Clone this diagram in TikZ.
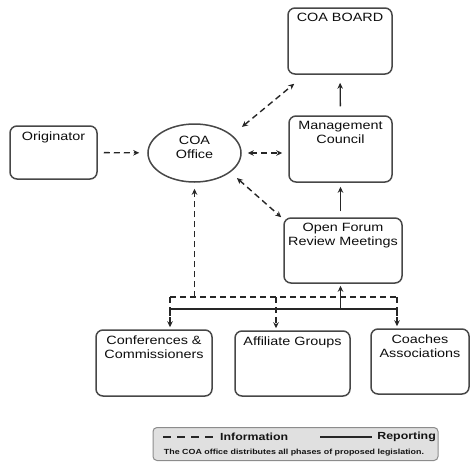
\documentclass[tikz,border=0pt]{standalone}
\usepackage{fontspec}
\setmainfont{Liberation Sans}[FakeStretch=1.2]
\usetikzlibrary{arrows.meta,shapes.geometric,calc}
\newcommand\mainfs{\fontsize{12}{14}\selectfont}
\newcommand\legfs{\fontsize{10.3}{12}\selectfont\bfseries}
\newcommand\notefs{\fontsize{7.4}{9}\selectfont\bfseries}
\begin{document}
\begin{tikzpicture}[x=1pt,y=-1pt,
  >={Stealth[length=6pt,width=5.5pt]},
  box/.style={draw=black!72, line width=1.5pt, rounded corners=7pt, inner sep=0pt},
  ttl/.style={label={[anchor=north,inner sep=0pt,yshift=-6pt,align=center,font=\mainfs,text=black!95]north:{#1}}},
  info/.style={draw=black!85, line width=1.4pt, dash pattern=on 6pt off 4pt},
  rep/.style={draw=black!85, line width=1.3pt},
  legtxt/.style={inner sep=0pt, text=black!92}]
\useasboundingbox (0,0) rectangle (471,461);

% boxes
\node[box, minimum width=104pt, minimum height=66pt, ttl={COA BOARD}] (board) at (340,41) {};
\node[box, minimum width=103pt, minimum height=66pt, ttl={Management\\Council}] (mgmt) at (340.5,149) {};
\node[box, minimum width=87pt, minimum height=53pt, ttl={Originator}] (orig) at (53.5,152.5) {};
\node[draw=black!72, line width=1.5pt, ellipse, minimum width=93pt, minimum height=58pt, inner sep=0pt,
  label={[anchor=north,inner sep=0pt,yshift=-13pt,align=center,font=\mainfs,text=black!95]90:{COA\\Office}}] (office) at (194.5,153) {};
\node[box, minimum width=118pt, minimum height=65pt, ttl={Open Forum\\Review Meetings}] (forum) at (343,250.5) {};
\node[box, minimum width=116pt, minimum height=66pt, ttl={Conferences \&\\Commissioners}] (conf) at (154,363) {};
\node[box, minimum width=115pt, minimum height=65pt, ttl={Affiliate Groups}] (affil) at (292.5,363.5) {};
\node[box, minimum width=98pt, minimum height=65pt, ttl={Coaches\\Associations}] (coach) at (420,361.5) {};

% information (dashed) connectors
\draw[info,->, shorten <=6pt, shorten >=8pt] (orig) -- (office);
\draw[info,<->] ([shift={(14,-5)}]office.north east) -- ([shift={(7,9)}]board.south west);
\draw[info,<->, shorten <=6pt, shorten >=6pt] (office.east) -- (office.east -| mgmt.west);
\draw[info,<->] ([shift={(9,4)}]office.south east) -- ([shift={(-2,0)}]forum.north west);

% reporting (solid) connectors
\draw[rep,->, shorten <=9pt, shorten >=8pt] (mgmt.north) -- (board.south);
\draw[rep,->, shorten <=6pt, shorten >=4pt] (mgmt.south |- forum.north) -- (mgmt.south);

% buses
\coordinate (d1) at (170,297);
\coordinate (d2) at (276,297);
\coordinate (d3) at (397,297);
\coordinate (s1) at (170,309);
\coordinate (s3) at (397,309);
\draw[info] (d1) -- (d3);
\draw[info,->, shorten >=6pt] (office.south |- d1) -- (office.south);
\draw[info,->, shorten >=2pt] (d1) -- (d1 |- conf.north);
\draw[info,->, shorten >=2pt] (d2) -- (d2 |- affil.north);
\draw[info,->, shorten >=2pt] (d3) -- (d3 |- coach.north);
\draw[rep] ([yshift=-7pt]s1) -- (s1) -- (s3) -- ([yshift=-7pt]s3);
\draw[rep,->, shorten >=2pt] (mgmt.south |- s1) -- (mgmt.south |- forum.south);

% legend
\node[draw=black!45, fill=black!12, line width=1pt, rounded corners=4pt,
  minimum width=285pt, minimum height=33pt] (legend) at (295.5,444) {};
\coordinate (la) at (163,437);
\coordinate (lb) at (213,437);
\coordinate (lc) at (320,437);
\coordinate (ld) at (372,437);
\draw[draw=black!85, line width=1.4pt, dash pattern=on 8pt off 6pt] (la) -- (lb);
\draw[rep] (lc) -- (ld);
\node[legtxt, anchor=west, font=\legfs] (linfo) at (220,437) {Information};
\node[legtxt, anchor=east, font=\legfs] (lrep) at (436,437) {Reporting};
\node[legtxt, font=\notefs] (lnote) at (294,453) {The COA office distributes all phases of proposed legislation.};
\end{tikzpicture}
\end{document}
